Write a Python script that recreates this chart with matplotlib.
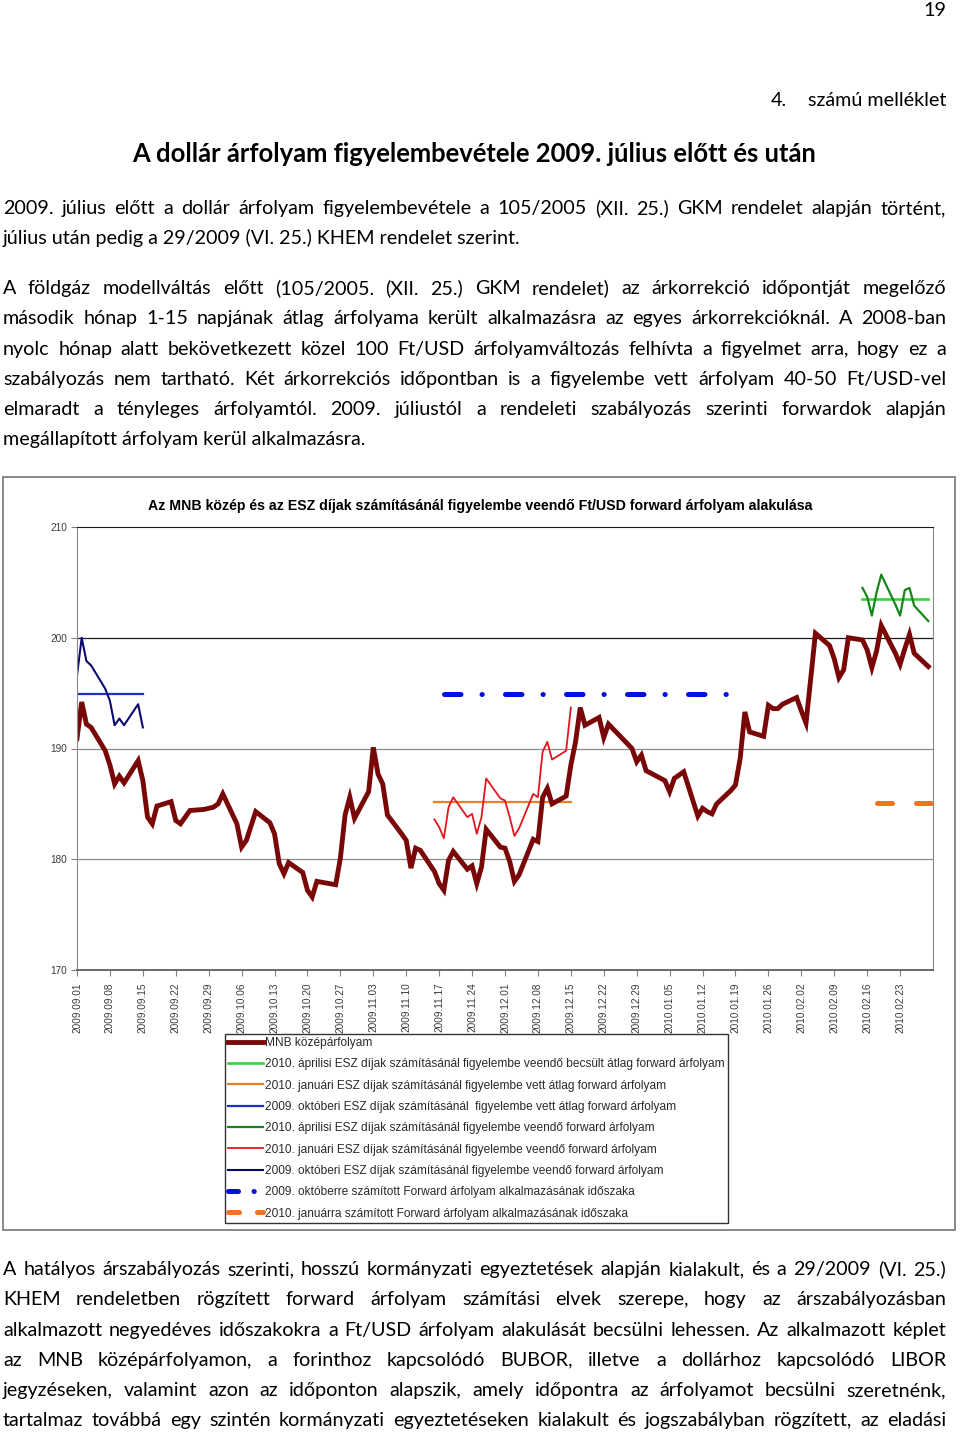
import matplotlib
matplotlib.use("Agg")
import matplotlib.pyplot as plt
import matplotlib.dates as mdates
import pandas as pd
from matplotlib.patches import Rectangle
from matplotlib.lines import Line2D

# ── szövegek
BODY_FONT  = "Lato"
CHART_FONT = "Liberation Sans"

PAGE_NO    = "19"
ANNEX      = "számú melléklet"
HEADING    = "A dollár árfolyam figyelembevétele 2009. július előtt és után"

PARA1 = [
    "2009. július előtt a dollár árfolyam figyelembevétele a 105/2005 (XII. 25.) GKM rendelet alapján történt,",
    "július után pedig a 29/2009 (VI. 25.) KHEM rendelet szerint.",
]
PARA2 = [
    "A földgáz modellváltás előtt (105/2005. (XII. 25.) GKM rendelet) az árkorrekció időpontját megelőző",
    "második hónap 1-15 napjának átlag árfolyama került alkalmazásra az egyes árkorrekcióknál. A 2008-ban",
    "nyolc hónap alatt bekövetkezett közel 100 Ft/USD árfolyamváltozás felhívta a figyelmet arra, hogy ez a",
    "szabályozás nem tartható. Két árkorrekciós időpontban is a figyelembe vett árfolyam 40-50 Ft/USD-vel",
    "elmaradt a tényleges árfolyamtól. 2009. júliustól a rendeleti szabályozás szerinti forwardok alapján",
    "megállapított árfolyam kerül alkalmazásra.",
]
PARA3 = [
    "A hatályos árszabályozás szerinti, hosszú kormányzati egyeztetések alapján kialakult, és a 29/2009 (VI. 25.)",
    "KHEM rendeletben rögzített forward árfolyam számítási elvek szerepe, hogy az árszabályozásban",
    "alkalmazott negyedéves időszakokra a Ft/USD árfolyam alakulását becsülni lehessen. Az alkalmazott képlet",
    "az MNB középárfolyamon, a forinthoz kapcsolódó BUBOR, illetve a dollárhoz kapcsolódó LIBOR",
    "jegyzéseken, valamint azon az időponton alapszik, amely időpontra az árfolyamot becsülni szeretnénk,",
    "tartalmaz továbbá egy szintén kormányzati egyeztetéseken kialakult és jogszabályban rögzített, az eladási",
]

CHART_TITLE = ("Az MNB közép és az ESZ díjak számításánál figyelembe veendő "
               "Ft/USD forward árfolyam alakulása")

LABELS = [
    "MNB középárfolyam",
    "2010. áprilisi ESZ díjak számításánál figyelembe veendő becsült átlag forward árfolyam",
    "2010. januári ESZ díjak számításánál figyelembe vett átlag forward árfolyam",
    "2009. októberi ESZ díjak számításánál  figyelembe vett átlag forward árfolyam",
    "2010. áprilisi ESZ díjak számításánál figyelembe veendő forward árfolyam",
    "2010. januári ESZ díjak számításánál figyelembe veendő forward árfolyam",
    "2009. októberi ESZ díjak számításánál figyelembe veendő forward árfolyam",
    "2009. októberre számított Forward árfolyam alkalmazásának időszaka",
    "2010. januárra számított Forward árfolyam alkalmazásának időszaka",
]

# ── adatok (napi MNB jegyzés, munkanapok)
HOLIDAYS = ["2009-10-23", "2009-12-24", "2009-12-25", "2010-01-01"]

MNB = [190.9, 194.2, 192.2, 191.9,
       189.8, 188.5, 186.8, 187.5, 186.9,
       188.9, 187.1, 183.8, 183.2, 184.8,
       185.2, 183.5, 183.2, 183.8, 184.4,
       184.5, 184.6, 184.7, 185.0, 185.9,
       183.2, 181.1, 181.7, 183.0, 184.3,
       183.3, 182.3, 179.6, 178.7, 179.7,
       178.8, 177.2, 176.6, 178.0,
       177.7, 180.1, 184.0, 185.6, 183.7,
       186.1, 190.1, 187.7, 186.8, 184.0,
       182.3, 181.7, 179.2, 181.0, 180.8,
       178.9, 177.8, 177.2, 179.9, 180.7,
       179.1, 179.4, 177.8, 179.3, 182.7,
       181.1, 181.0, 179.8, 178.0, 178.6,
       181.8, 181.6, 185.6, 186.4, 185.0,
       185.7, 188.5, 190.6, 193.7, 192.1,
       192.8, 191.0, 192.2,
       190.0, 188.8, 189.4, 188.0,
       187.1, 186.1, 187.3, 187.6, 187.9,
       183.9, 184.6, 184.3, 184.1, 185.0,
       186.2, 186.7, 189.1, 193.3, 191.5,
       191.1, 193.9, 193.6, 193.6, 194.0,
       194.6, 193.4, 192.3, 196.3, 200.4,
       199.3, 198.1, 196.4, 197.1, 200.0,
       199.8, 198.9, 197.3, 198.8, 201.1,
       198.6, 197.6, 199.0, 200.3, 198.6,
       197.4]

FWD_OCT = [196.6, 200.0, 197.9, 197.5,
           195.4, 194.3, 192.1, 192.7, 192.1,
           194.0, 191.9]
FWD_JAN = [183.6, 182.9, 181.9, 184.7, 185.6,
           183.8, 184.1, 182.3, 183.8, 187.3,
           185.5, 185.3, 183.8, 182.1, 182.8,
           185.9, 185.6, 189.7, 190.6, 189.0,
           189.8, 193.7]
FWD_APR = [204.5, 203.7, 202.0, 204.1, 205.7,
           203.0, 202.0, 204.3, 204.5, 202.9,
           201.5]

AVG_OCT = 194.9
AVG_JAN = 185.2
AVG_APR = 203.5
PERIOD_OCT = ("2009-11-18", "2010-01-18", 194.9)
PERIOD_JAN = ("2010-02-18", "2010-03-02", 185.1)


def trading_days(start, end):
    days = pd.bdate_range(start, end)
    return days[~days.isin(pd.to_datetime(HOLIDAYS))]


# ── oldal
W, H = 960, 1434
fig = plt.figure(figsize=(W / 100, H / 100), dpi=100)
page = fig.add_axes([0, 0, 1, 1])
page.set_xlim(0, W)
page.set_ylim(H, 0)
page.axis("off")
renderer = fig.canvas.get_renderer()


def text_width(s, size, **kw):
    t = page.text(0, 0, s, fontsize=size, **kw)
    w = t.get_window_extent(renderer).width
    t.remove()
    return w


def fit_size(s, target, **kw):
    return 10 * target / text_width(s, 10, **kw)


X0, X1 = 3, 946
body = fit_size(PARA1[1], 518, family=BODY_FONT)
shift = 0.36 * body * 100 / 72     # középvonal -> alapvonal


def put_text(x, y, s, size=None, **kw):
    page.text(x, y + shift * (size or body) / body, s, fontsize=size or body,
              family=BODY_FONT, va="baseline", **kw)


def put_line(line, y, justify=True):
    if not justify:
        put_text(X0, y, line)
        return
    words = line.split()
    widths = [text_width(w, body, family=BODY_FONT) for w in words]
    gap = (X1 - X0 - sum(widths)) / (len(words) - 1)
    x = X0
    for w, wd in zip(words, widths):
        put_text(x, y, w)
        x += wd + gap


def put_para(lines, y0, last_justified=False):
    for i, line in enumerate(lines):
        last = i == len(lines) - 1
        put_line(line, y0 + i * 30.2, justify=(not last) or last_justified)


put_text(946, 9, PAGE_NO, ha="right")
put_text(771, 99, "4.")
put_text(946, 99, ANNEX, ha="right")
hsize = fit_size(HEADING, 687, family=BODY_FONT, weight="bold")
put_text(474.5, 153, HEADING, size=hsize, weight="bold", ha="center")

put_para(PARA1, 207)
put_para(PARA2, 287)
put_para(PARA3, 1268, last_justified=True)

# ── diagram keret és cím
page.add_patch(Rectangle((3, 477), 952, 753, fill=False,
                         edgecolor="#7f7f7f", linewidth=1.3))
tsize = fit_size(CHART_TITLE, 662, family=CHART_FONT, weight="bold")
page.text(480, 506, CHART_TITLE, fontsize=tsize, family=CHART_FONT,
          weight="bold", ha="center", va="center")

ax = fig.add_axes([77 / W, 1 - 970 / H, 856 / W, 443 / H])

d_mnb = trading_days("2009-09-01", "2010-03-01")
d_oct = trading_days("2009-09-01", "2009-09-15")
d_jan = trading_days("2009-11-16", "2009-12-15")
d_apr = trading_days("2010-02-15", "2010-03-01")

C_MNB   = "#7a0707"
C_LGRN  = "#38d438"
C_ORNG  = "#e8802a"
C_BLUE  = "#2030c0"
C_DGRN  = "#17861a"
C_RED   = "#e3161e"
C_NAVY  = "#0a0a6e"
C_PBLUE = "#0010dd"
C_PORNG = "#f07420"

h_lgrn, = ax.plot([d_apr[0], d_apr[-1]], [AVG_APR, AVG_APR], color=C_LGRN, lw=1.9)
h_orng, = ax.plot([d_jan[0], d_jan[-1]], [AVG_JAN, AVG_JAN], color=C_ORNG, lw=1.6)
h_blue, = ax.plot([d_oct[0], d_oct[-1]], [AVG_OCT, AVG_OCT], color=C_BLUE, lw=1.6)
h_dgrn, = ax.plot(d_apr, FWD_APR, color=C_DGRN, lw=1.6)
h_red,  = ax.plot(d_jan, FWD_JAN, color=C_RED, lw=1.3)
h_navy, = ax.plot(d_oct, FWD_OCT, color=C_NAVY, lw=1.5)
h_mnb,  = ax.plot(d_mnb, MNB, color=C_MNB, lw=3.5, solid_joinstyle="miter")

p_oct = pd.to_datetime(PERIOD_OCT[:2])
ax.plot(p_oct, [PERIOD_OCT[2]] * 2, color=C_PBLUE, lw=3.6,
        linestyle=(0, (3.3, 4.2, 0.05, 4.65)), dash_capstyle="round")
p_jan = pd.to_datetime(PERIOD_JAN[:2])
ax.plot(p_jan, [PERIOD_JAN[2]] * 2, color=C_PORNG, lw=3.6,
        linestyle=(0, (3.0, 4.8)), dash_capstyle="round")

ax.set_xlim(pd.Timestamp("2009-09-01"), pd.Timestamp("2010-03-02"))
ax.set_ylim(170, 210)
ax.set_yticks([170, 180, 190, 200, 210])
ax.set_xticks(pd.date_range("2009-09-01", "2010-02-23", freq="7D"))
ax.xaxis.set_major_formatter(mdates.DateFormatter("%Y.%m.%d"))
for lab in ax.get_xticklabels():
    lab.set_rotation(90)
ax.tick_params(axis="x", labelsize=7.2, labelcolor="#3a3a3a", length=4,
               color="#808080", pad=5)
ax.tick_params(axis="y", labelsize=7.2, labelcolor="#3a3a3a", length=4,
               color="#808080", pad=3)
for lab in ax.get_xticklabels() + ax.get_yticklabels():
    lab.set_family(CHART_FONT)

ax.axhline(180, color="#8a8a8a", lw=0.9, zorder=0)
ax.axhline(190, color="#8a8a8a", lw=0.9, zorder=0)
ax.axhline(200, color="#1a1a1a", lw=0.9, zorder=0)
ax.spines["top"].set_color("#1a1a1a")
ax.spines["right"].set_color("#8a8a8a")
ax.spines["left"].set_color("#8a8a8a")
ax.spines["bottom"].set_color("#6a6a6a")
ax.spines["bottom"].set_linewidth(1.4)

# ── jelmagyarázat (az időszak-vonalak mintája rövidebb a mintában)
h_pblue = Line2D([], [], color=C_PBLUE, lw=3.6, dash_capstyle="round",
                 linestyle=(0, (2.0, 3.1, 0.05, 3.0)))
h_porng = Line2D([], [], color=C_PORNG, lw=3.6, dash_capstyle="round",
                 linestyle=(0, (2.2, 3.6)))
handles = [h_mnb, h_lgrn, h_orng, h_blue, h_dgrn, h_red, h_navy, h_pblue, h_porng]
lsize = fit_size(LABELS[1], 464, family=CHART_FONT)
leg = fig.legend(handles, LABELS, loc="upper left",
                 bbox_to_anchor=(225 / W, 1 - 1034 / H), borderaxespad=0,
                 prop={"family": CHART_FONT, "size": lsize},
                 frameon=True, fancybox=False, edgecolor="#000000",
                 borderpad=0.25, labelspacing=0.78, handlelength=2.95,
                 handletextpad=0.15)
leg.get_frame().set_linewidth(1.0)
for t in leg.get_texts():
    t.set_color("#2a2a2a")

fig.savefig("out.png", dpi=100)
